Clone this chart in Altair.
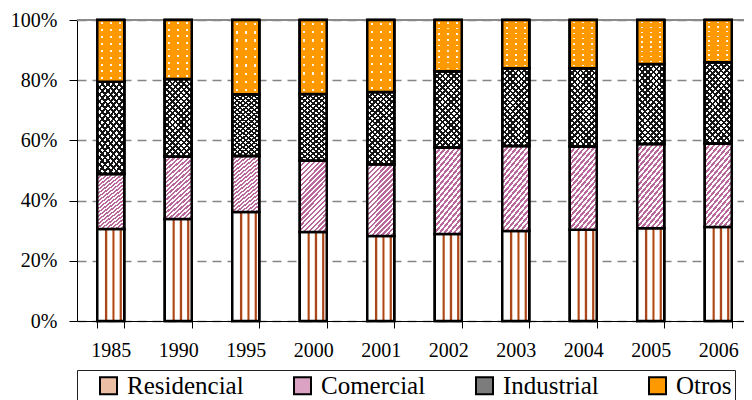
import altair as alt
import pandas as pd

years = ["1985", "1990", "1995", "2000", "2001", "2002", "2003", "2004", "2005", "2006"]
categories = ["Residencial", "Comercial", "Industrial", "Otros"]
residencial = [30.6, 33.9, 36.2, 29.6, 28.2, 28.9, 29.9, 30.3, 30.8, 31.2]
comercial = [18.2, 20.7, 18.6, 23.6, 23.9, 28.7, 28.2, 27.7, 28.0, 27.8]
industrial = [30.7, 25.8, 20.5, 22.2, 24.0, 25.4, 25.9, 26.0, 26.6, 27.0]
otros = [20.5, 19.6, 24.7, 24.6, 23.9, 17.0, 16.0, 16.0, 14.6, 14.0]

series = {"Residencial": residencial, "Comercial": comercial,
          "Industrial": industrial, "Otros": otros}
rows = []
for ci, cat in enumerate(categories):
    for y, v in zip(years, series[cat]):
        rows.append({"year": y, "category": cat, "order": ci, "value": v})
df = pd.DataFrame(rows)

FONT = "Liberation Serif"
TRANSPARENT = "rgba(255,255,255,0)"


# ---- pattern-like fills built from gradients (style only) ----
def stripes(n, duty, on, off, start=0.0):
    stops = [alt.GradientStop(offset=0, color=off)]
    for i in range(n):
        a = (i + start) / n
        b = (i + start + duty) / n
        stops += [alt.GradientStop(offset=min(a, 1), color=off),
                  alt.GradientStop(offset=min(a, 1), color=on),
                  alt.GradientStop(offset=min(b, 1), color=on),
                  alt.GradientStop(offset=min(b, 1), color=off)]
    stops.append(alt.GradientStop(offset=1, color=off))
    return stops


def lines(positions, hw, on, fringe, off):
    stops = [alt.GradientStop(offset=0, color=off)]
    for p in positions:
        stops += [alt.GradientStop(offset=p - hw - 0.03, color=off),
                  alt.GradientStop(offset=p - hw, color=fringe),
                  alt.GradientStop(offset=p - hw + 0.01, color=on),
                  alt.GradientStop(offset=p + hw - 0.01, color=on),
                  alt.GradientStop(offset=p + hw, color=fringe),
                  alt.GradientStop(offset=p + hw + 0.03, color=off)]
    stops.append(alt.GradientStop(offset=1, color=off))
    return stops


def solid(c):
    return alt.Gradient(gradient="linear", stops=[alt.GradientStop(offset=0, color=c),
                                                   alt.GradientStop(offset=1, color=c)])


grad_res = alt.Gradient(gradient="linear", x1=0, y1=0, x2=1, y2=0,
                        stops=lines([0.33, 0.6, 0.87], 0.035,
                                    "#a8461c", "#dc9870", "#ffffff"))
grad_com = alt.Gradient(gradient="linear", x1=0, y1=0, x2=0.466, y2=1.206,
                        stops=stripes(20, 0.5, "#b8689a", "#ffffff"))
grad_ind1 = alt.Gradient(gradient="linear", x1=1, y1=0, x2=0.567, y2=1.204,
                         stops=stripes(18, 0.42, "#151515", "#ffffff"))
grad_ind2 = alt.Gradient(gradient="linear", x1=0, y1=0, x2=0.433, y2=1.204,
                         stops=stripes(18, 0.42, "#151515", TRANSPARENT))
ORANGE = "#ff9900"
grad_otr_cols = alt.Gradient(gradient="linear", x1=0, y1=0, x2=1, y2=0,
                             stops=stripes(3, 0.22, TRANSPARENT, ORANGE, start=0.39))
grad_otr_rows = alt.Gradient(gradient="linear", x1=0, y1=0, x2=0, y2=1,
                             stops=stripes(9, 0.28, TRANSPARENT, ORANGE, start=0.36))

legend_colors = ["#ecbfa4", "#dba2c4", "#7c7c7c", ORANGE]

x_enc = alt.X("year:N", sort=years, title=None,
              scale=alt.Scale(paddingInner=0.6, paddingOuter=0.3, range=[0, 675]),
              axis=alt.Axis(labelAngle=0, tickBand="extent", tickSize=7,
                            tickColor="black", domainColor="black",
                            labelFont=FONT, labelFontSize=20, labelColor="black",
                            labelPadding=12, grid=False))
y_enc = alt.Y("y0:Q", title=None, scale=alt.Scale(domain=[0, 1]),
              axis=alt.Axis(values=[0, 0.2, 0.4, 0.6, 0.8, 1.0], format=".0%",
                            tickSize=8, tickColor="black", domainColor="black",
                            labelFont=FONT, labelFontSize=20, labelColor="black",
                            labelPadding=12, grid=True, gridColor="#858585",
                            gridDash=[9, 6], gridWidth=1.3))

base = alt.Chart(df).transform_stack(
    stack="value", groupby=["year"], as_=["y0", "y1"], offset="normalize",
    sort=[alt.SortField("order", order="ascending")])

bars = base.mark_bar(stroke="black", strokeWidth=2.5).encode(
    x=x_enc, y=y_enc, y2="y1:Q",
    fill=alt.Fill("category:N", sort=categories,
                  scale=alt.Scale(domain=categories, range=legend_colors),
                  legend=alt.Legend(orient="none", legendX=0, legendY=350,
                                    direction="horizontal", title="\u00a0",
                                    titleOrient="left", titleFontSize=24,
                                    titlePadding=16, titleFont=FONT,
                                    labelFont=FONT, labelFontSize=25,
                                    labelColor="black", labelOffset=6,
                                    symbolType="square", symbolSize=289,
                                    symbolStrokeColor="black",
                                    symbolStrokeWidth=2, columnPadding=46,
                                    padding=3, strokeColor="#222222",
                                    fillColor="white")),
)


def overlay(cat, grad, stroke=True):
    kw = dict(fill=grad)
    if stroke:
        kw.update(stroke="black", strokeWidth=2.5)
    else:
        kw.update(strokeWidth=0)
    return base.transform_filter(alt.datum.category == cat).mark_bar(**kw).encode(
        x=x_enc, y=y_enc, y2="y1:Q")


top_line = alt.Chart(df).mark_rule(color="#8a8a8a", strokeWidth=1.5).encode(
    y=alt.datum(1))

chart = alt.layer(
    top_line,
    bars,
    overlay("Residencial", grad_res),
    overlay("Comercial", grad_com),
    overlay("Industrial", grad_ind1),
    overlay("Industrial", grad_ind2),
    overlay("Otros", solid("#fff6e6")),
    overlay("Otros", grad_otr_cols, stroke=False),
    overlay("Otros", grad_otr_rows),
).properties(
    width=667, height=301,
    autosize=alt.AutoSizeParams(type="none"),
    padding={"left": 69, "top": 12, "right": 0, "bottom": 79},
).configure(
    font=FONT
).configure_view(
    strokeWidth=0
).configure_axis(
    labelFont=FONT, labelFontSize=20, labelColor="black"
)

chart.save("out.html", embed_options={"renderer": "svg", "actions": False})
